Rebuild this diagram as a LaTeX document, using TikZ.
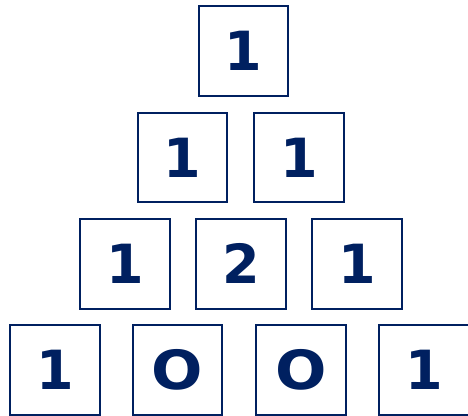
\documentclass[tikz,border=0pt]{standalone}
\usepackage{fontspec}
\setmainfont{DejaVu Sans}
\definecolor{navy}{RGB}{0,32,96}
\newcommand{\wideO}{\scalebox{1.12}[1]{O}}
\begin{document}
\begin{tikzpicture}[x=1pt,y=-1pt,
  cell/.style={draw=navy, line width=2pt, minimum size=89.5pt, inner sep=0pt,
    text=navy, font=\fontsize{54}{54}\selectfont\bfseries}]
\useasboundingbox (0,0) rectangle (468,415);
\node[cell] (a1) at (243.5,51) {1};
\node[cell] (b1) at (182.7,157.5) {1};
\node[cell] (b2) at (298.8,157.5) {1};
\node[cell] (c1) at (125,263.8) {1};
\node[cell] (c2) at (241.2,263.8) {2};
\node[cell] (c3) at (357,263.8) {1};
\node[cell] (d1) at (55,370) {1};
\node[cell] (d2) at (177.7,370) {\wideO};
\node[cell] (d3) at (301,370) {\wideO};
\node[cell] (d4) at (424,370) {1};
\end{tikzpicture}
\end{document}
